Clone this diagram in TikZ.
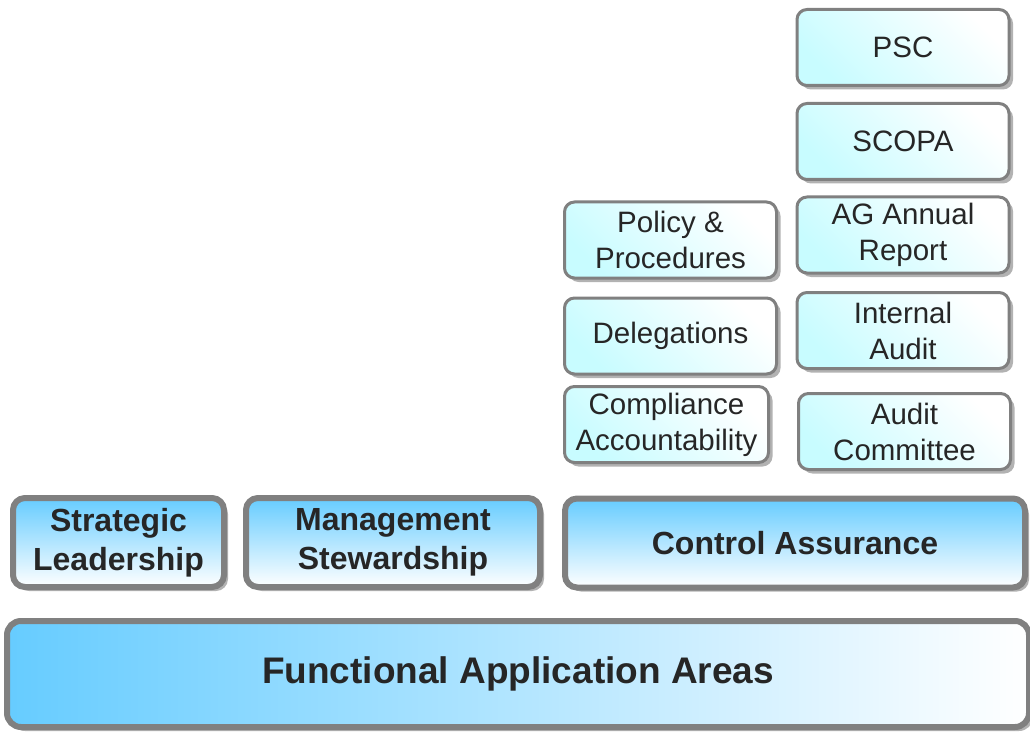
\documentclass[tikz,border=0pt]{standalone}
\usepackage{fontspec}
\setmainfont{Liberation Sans}
\usetikzlibrary{shadows}

\definecolor{rimgray}{HTML}{808080}
\definecolor{skyblue}{HTML}{66CCFF}
\definecolor{paleaqua}{HTML}{C8FCFF}
\definecolor{inkgray}{HTML}{262626}

\begin{document}
\begin{tikzpicture}[
  x=1pt, y=-1pt,
  box/.style={draw=rimgray, rounded corners=10pt, align=center, text=inkgray,
    inner sep=0pt,
    drop shadow={shadow xshift=4pt, shadow yshift=-4pt, fill=black!30, opacity=1}},
  smallbox/.style={box, line width=3pt, minimum width=212pt, minimum height=76pt,
    top color=white, bottom color=paleaqua, shading angle=-45,
    font=\fontsize{29.5}{36}\selectfont},
  tierbox/.style={box, line width=6pt, minimum height=89pt, rounded corners=12pt,
    top color=skyblue, bottom color=white,
    font=\bfseries\fontsize{32}{39}\selectfont},
  basebox/.style={box, line width=6pt, minimum width=1022pt, minimum height=106pt,
    rounded corners=14pt, left color=skyblue, right color=white,
    font=\bfseries\fontsize{37}{44}\selectfont},
]
  \useasboundingbox (0,0) rectangle (1030,738);

  % right column
  \node[smallbox] (psc)      at (903,47.5)  {PSC};
  \node[smallbox] (scopa)    at (903,141.5) {SCOPA};
  \node[smallbox] (agreport) at (903,235)   {AG Annual\\Report};
  \node[smallbox] (intaudit) at (903,330.5) {Internal\\Audit};
  \node[smallbox] (auditcom) at (904.5,431.5) {Audit\\Committee};

  % left column
  \node[smallbox] (policy) at (670.5,240) {Policy \&\\Procedures};
  \node[smallbox] (deleg)  at (670.5,336) {Delegations};
  \node[smallbox, minimum width=204pt] (compliance) at (666.5,424.5)
    {Compliance\\Accountability};

  % tiers
  \node[tierbox, minimum width=211pt] (strategic) at (118.5,542.5) {Strategic\\Leadership};
  \node[tierbox, minimum width=294pt] (mgmt)      at (393,542.5)   {Management\\Stewardship};
  \node[tierbox, minimum width=460pt] (control)   at (795,543)     {Control Assurance};

  \node[basebox] (faa) at (518,674) {Functional Application Areas};
\end{tikzpicture}
\end{document}
